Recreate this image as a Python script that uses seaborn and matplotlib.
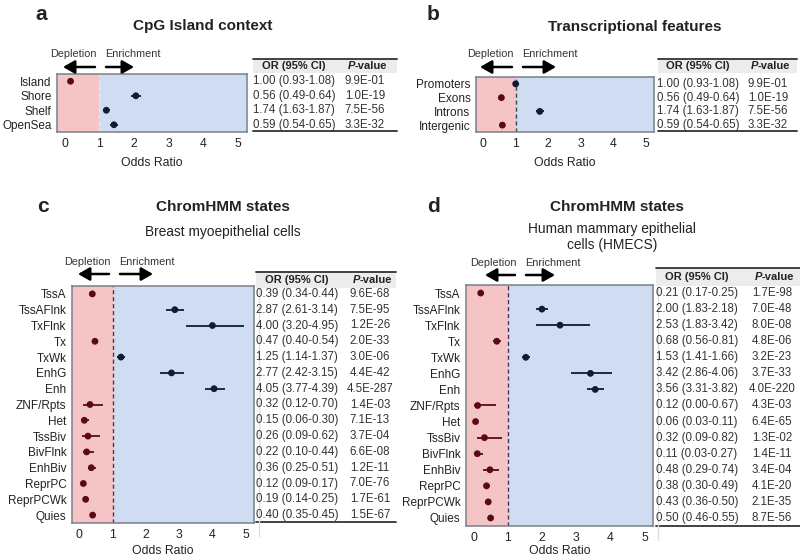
import numpy as np
import pandas as pd
import matplotlib
matplotlib.use("Agg")
import matplotlib.pyplot as plt
import matplotlib.transforms as mtransforms
from matplotlib.patches import Rectangle, FancyArrowPatch
from matplotlib.lines import Line2D
import seaborn as sns

# ---------------- data ----------------
cats_a = ["Island", "Shore", "Shelf", "OpenSea"]
or_a = [0.17, 2.05, 1.20, 1.42]
lo_a = [0.13, 1.90, 1.09, 1.32]
hi_a = [0.21, 2.20, 1.32, 1.53]
ortxt_a = ["1.00 (0.93-1.08)", "0.56 (0.49-0.64)", "1.74 (1.63-1.87)", "0.59 (0.54-0.65)"]
ptxt_a = ["9.9E-01", "1.0E-19", "7.5E-56", "3.3E-32"]

cats_b = ["Promoters", "Exons", "Introns", "Intergenic"]
or_b = [1.00, 0.56, 1.74, 0.59]
lo_b = [0.93, 0.49, 1.63, 0.54]
hi_b = [1.08, 0.64, 1.87, 0.65]
ortxt_b = ["1.00 (0.93-1.08)", "0.56 (0.49-0.64)", "1.74 (1.63-1.87)", "0.59 (0.54-0.65)"]
ptxt_b = ["9.9E-01", "1.0E-19", "7.5E-56", "3.3E-32"]

cats_hmm = ["TssA", "TssAFlnk", "TxFlnk", "Tx", "TxWk", "EnhG", "Enh", "ZNF/Rpts",
            "Het", "TssBiv", "BivFlnk", "EnhBiv", "ReprPC", "ReprPCWk", "Quies"]
or_c = [0.39, 2.87, 4.00, 0.47, 1.25, 2.77, 4.05, 0.32, 0.15, 0.26, 0.22, 0.36, 0.12, 0.19, 0.40]
lo_c = [0.34, 2.61, 3.20, 0.40, 1.14, 2.42, 3.77, 0.12, 0.06, 0.09, 0.10, 0.25, 0.09, 0.14, 0.35]
hi_c = [0.44, 3.14, 4.95, 0.54, 1.37, 3.15, 4.39, 0.70, 0.30, 0.62, 0.44, 0.51, 0.17, 0.25, 0.45]
ptxt_c = ["9.6E-68", "7.5E-95", "1.2E-26", "2.0E-33", "3.0E-06", "4.4E-42", "4.5E-287",
          "1.4E-03", "7.1E-13", "3.7E-04", "6.6E-08", "1.2E-11", "7.0E-76", "1.7E-61", "1.5E-67"]

or_d = [0.21, 2.00, 2.53, 0.68, 1.53, 3.42, 3.56, 0.12, 0.06, 0.32, 0.11, 0.48, 0.38, 0.43, 0.50]
lo_d = [0.17, 1.83, 1.83, 0.56, 1.41, 2.86, 3.31, 0.00, 0.03, 0.09, 0.03, 0.29, 0.30, 0.36, 0.46]
hi_d = [0.25, 2.18, 3.42, 0.81, 1.66, 4.06, 3.82, 0.67, 0.11, 0.82, 0.27, 0.74, 0.49, 0.50, 0.55]
ptxt_d = ["1.7E-98", "7.0E-48", "8.0E-08", "4.8E-06", "3.2E-23", "3.7E-33", "4.0E-220",
          "4.3E-03", "6.4E-65", "1.3E-02", "1.4E-11", "3.4E-04", "4.1E-20", "2.1E-35", "8.7E-56"]

x_ticks = [0, 1, 2, 3, 4, 5]

# ---------------- style ----------------
sns.set_theme(style="white")
plt.rcParams["font.family"] = ["Liberation Sans", "DejaVu Sans"]

W, H = 800, 559
fig = plt.figure(figsize=(W / 100, H / 100), dpi=100)

PINK = "#f5c4c7"
BLUE = "#cfdcf1"
RED = "#5a0a10"
NAVY = "#0e1c34"
FRAME = "#7a7f88"
TXT = "#222222"
TAB = "#333333"

FS_CAT = 8.5
FS_TICK = 8.8
FS_TAB = 8.3
FS_HEAD = 8.0
FS_XL = 8.8


def fx(px):
    return px / W


def fy(py):
    return 1 - py / H


def fmt_or(o, l, h):
    return f"{o:.2f} ({l:.2f}-{h:.2f})"


def panel(box, cats, ors, los, his, ortxt, ptxt, table, dash_color, lpad):
    left, right, top, bottom = box
    ax = fig.add_axes([fx(left), fy(bottom), fx(right - left), (bottom - top) / H])
    n = len(cats)
    df = pd.DataFrame({"cat": cats, "OR": ors, "lo": los, "hi": his})
    df["pos"] = np.arange(n)
    df["dir"] = np.where(df["OR"] < 1, "dep", "enr")
    xmin, xmax = -0.22, 5.25
    ax.axvspan(xmin, 1, color=PINK, zorder=0, lw=0)
    ax.axvspan(1, xmax, color=BLUE, zorder=0, lw=0)
    ax.axvline(1, ls=(0, (3, 2)), color=dash_color, lw=1.0, zorder=1)
    pal = {"dep": RED, "enr": NAVY}
    for _, r in df.iterrows():
        ax.hlines(r["pos"], r["lo"], r["hi"], color=pal[r["dir"]], lw=1.3, zorder=2)
    sns.scatterplot(data=df, x="OR", y="pos", hue="dir", palette=pal, s=24,
                    edgecolor="none", legend=False, ax=ax, zorder=3)
    ax.set_xlim(xmin, xmax)
    ax.set_ylim(n - 0.5, -0.5)
    ax.set_yticks(df["pos"])
    ax.set_yticklabels(cats, fontsize=FS_CAT, color=TXT)
    ax.set_xticks(x_ticks)
    ax.set_xticklabels([str(t) for t in x_ticks], fontsize=FS_TICK, color=TXT)
    ax.tick_params(axis="y", length=0, pad=4)
    ax.tick_params(axis="x", length=0, pad=4)
    ax.set_xlabel("Odds Ratio", fontsize=FS_XL, color=TXT, labelpad=lpad)
    ax.set_ylabel("")
    for s in ax.spines.values():
        s.set_visible(True)
        s.set_color(FRAME)
        s.set_linewidth(1.1)

    # table
    tl, tr, ttop, hbot, tbot, orc, pc = table
    fig.patches.append(Rectangle((fx(tl), fy(hbot)), fx(tr - tl), (hbot - ttop) / H,
                                 transform=fig.transFigure, facecolor="#ececec",
                                 edgecolor="none", zorder=0))
    fig.lines.append(Line2D([fx(tl), fx(tr)], [fy(ttop), fy(ttop)], transform=fig.transFigure,
                            color="#333333", lw=1.3))
    fig.lines.append(Line2D([fx(tl), fx(tr)], [fy(tbot), fy(tbot)], transform=fig.transFigure,
                            color="#333333", lw=1.3))
    hy = fy((ttop + hbot) / 2)
    fig.text(fx(orc), hy, "OR (95% CI)", ha="center", va="center", fontsize=FS_HEAD,
             fontweight="bold", color=TXT)
    fig.text(fx(pc - 10), hy, "P", ha="right", va="center", fontsize=FS_HEAD,
             fontweight="bold", fontstyle="italic", color=TXT)
    fig.text(fx(pc - 10), hy, "-value", ha="left", va="center", fontsize=FS_HEAD,
             fontweight="bold", color=TXT)
    tr_ = mtransforms.blended_transform_factory(fig.transFigure, ax.transData)
    for i in range(n):
        fig.text(fx(orc), i, ortxt[i], ha="center", va="center", fontsize=FS_TAB,
                 color=TAB, transform=tr_)
        fig.text(fx(pc), i, ptxt[i], ha="center", va="center", fontsize=FS_TAB,
                 color=TAB, transform=tr_)
    return ax


def arrows(dep_c, enr_c, ty, ay, dep_from, dep_to, enr_from, enr_to):
    fig.text(fx(dep_c), fy(ty), "Depletion", ha="center", va="center", fontsize=7.8, color=TAB)
    fig.text(fx(enr_c), fy(ty), "Enrichment", ha="center", va="center", fontsize=7.8, color=TAB)
    for a, b in [(dep_from, dep_to), (enr_from, enr_to)]:
        fig.add_artist(FancyArrowPatch(
            (fx(a), fy(ay)), (fx(b), fy(ay)), transform=fig.transFigure,
            arrowstyle="-|>,head_length=7,head_width=4", color="black", lw=1.8,
            shrinkA=0, shrinkB=0, mutation_scale=1))


# ---------------- panel a ----------------
fig.text(fx(35), fy(14), "a", fontsize=15, fontweight="bold", color=TXT, va="center")
fig.text(fx(203), fy(26), "CpG Island context", fontsize=11, fontweight="bold",
         ha="center", va="center", color=TXT)
arrows(73, 133, 54, 67, 95, 63, 106, 134)
panel((57, 247, 74, 132), cats_a, or_a, lo_a, hi_a, ortxt_a, ptxt_a,
      (253, 397, 59, 73, 131, 294, 365), "#e8e8e8", 5)

# ---------------- panel b ----------------
fig.text(fx(427), fy(14), "b", fontsize=15, fontweight="bold", color=TXT, va="center")
fig.text(fx(635), fy(27), "Transcriptional features", fontsize=11, fontweight="bold",
         ha="center", va="center", color=TXT)
arrows(490, 550, 54, 67, 512, 480, 523, 556)
panel((476, 654, 77, 132), cats_b, or_b, lo_b, hi_b, ortxt_b, ptxt_b,
      (658, 797, 59, 73, 131, 698, 768), "#444444", 5)

# ---------------- panel c ----------------
fig.text(fx(37), fy(207), "c", fontsize=15, fontweight="bold", color=TXT, va="center")
fig.text(fx(223), fy(207), "ChromHMM states", fontsize=11, fontweight="bold",
         ha="center", va="center", color=TXT)
fig.text(fx(223), fy(232), "Breast myoepithelial cells", fontsize=9.9,
         ha="center", va="center", color=TXT)
arrows(87, 147, 262, 274, 109, 78, 120, 153)
ortxt_c = [fmt_or(o, l, h) for o, l, h in zip(or_c, lo_c, hi_c)]
panel((72, 254, 286, 523), cats_hmm, or_c, lo_c, hi_c, ortxt_c, ptxt_c,
      (256, 396, 272, 288, 522, 297, 370), "#5a3050", 3)
fig.lines.append(Line2D([fx(259), fx(259)], [fy(288), fy(536)], transform=fig.transFigure,
                        color="#dddddd", lw=1.0))

# ---------------- panel d ----------------
fig.text(fx(427), fy(207), "d", fontsize=15, fontweight="bold", color=TXT, va="center")
fig.text(fx(617), fy(207), "ChromHMM states", fontsize=11, fontweight="bold",
         ha="center", va="center", color=TXT)
fig.text(fx(612), fy(237), "Human mammary epithelial\ncells (HMECS)", fontsize=9.9,
         ha="center", va="center", color=TXT, linespacing=1.25)
arrows(493, 553, 263, 275, 515, 485, 526, 555)
ortxt_d = [fmt_or(o, l, h) for o, l, h in zip(or_d, lo_d, hi_d)]
panel((466, 653, 285, 526), cats_hmm, or_d, lo_d, hi_d, ortxt_d, ptxt_d,
      (656, 800, 268, 286, 526, 697, 772), "#5a3050", 1)
fig.lines.append(Line2D([fx(658), fx(658)], [fy(286), fy(540)], transform=fig.transFigure,
                        color="#dddddd", lw=1.0))

fig.savefig("out.png", dpi=100, facecolor="white")
